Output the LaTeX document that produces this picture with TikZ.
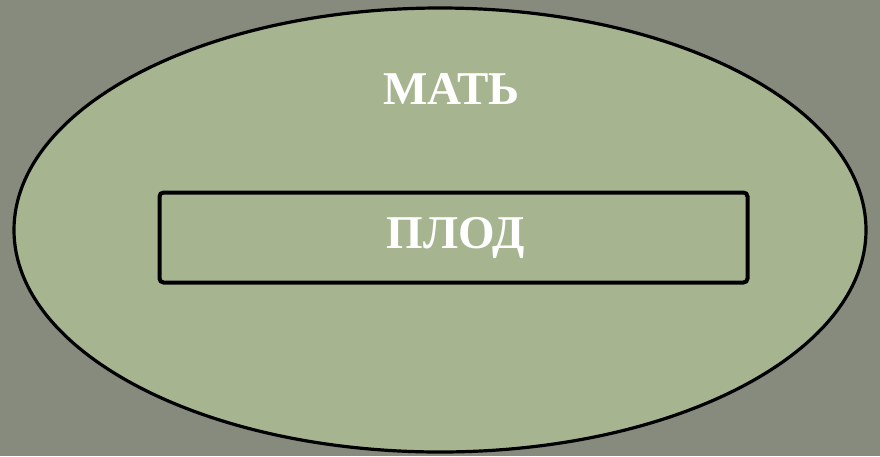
\documentclass[tikz,border=0pt]{standalone}
\usepackage{fontspec}
\setmainfont{Liberation Serif}
\usetikzlibrary{shapes.geometric}
\definecolor{bgc}{HTML}{868B7D}
\definecolor{ellc}{HTML}{A6B590}
\begin{document}
\begin{tikzpicture}[x=1pt,y=-1pt,
  lbl/.style={text=white,font=\fontsize{47}{50}\selectfont\bfseries,inner sep=0pt,anchor=base}]
\fill[bgc] (0,0) rectangle (880,456);
\useasboundingbox (0,0) rectangle (880,456);
\node[draw=black,line width=3.2pt,fill=ellc,ellipse,minimum width=852pt,minimum height=444pt,inner sep=0pt] (mother) at (440,230) {};
\node[draw=black,line width=4pt,rounded corners=4pt,minimum width=588pt,minimum height=90pt,inner sep=0pt] (fruit) at (453.5,237.5) {};
\node[lbl] (tm) at (451.5,104) {МАТЬ};
\node[lbl] (tf) at (455.5,248) {ПЛОД};
\end{tikzpicture}
\end{document}
